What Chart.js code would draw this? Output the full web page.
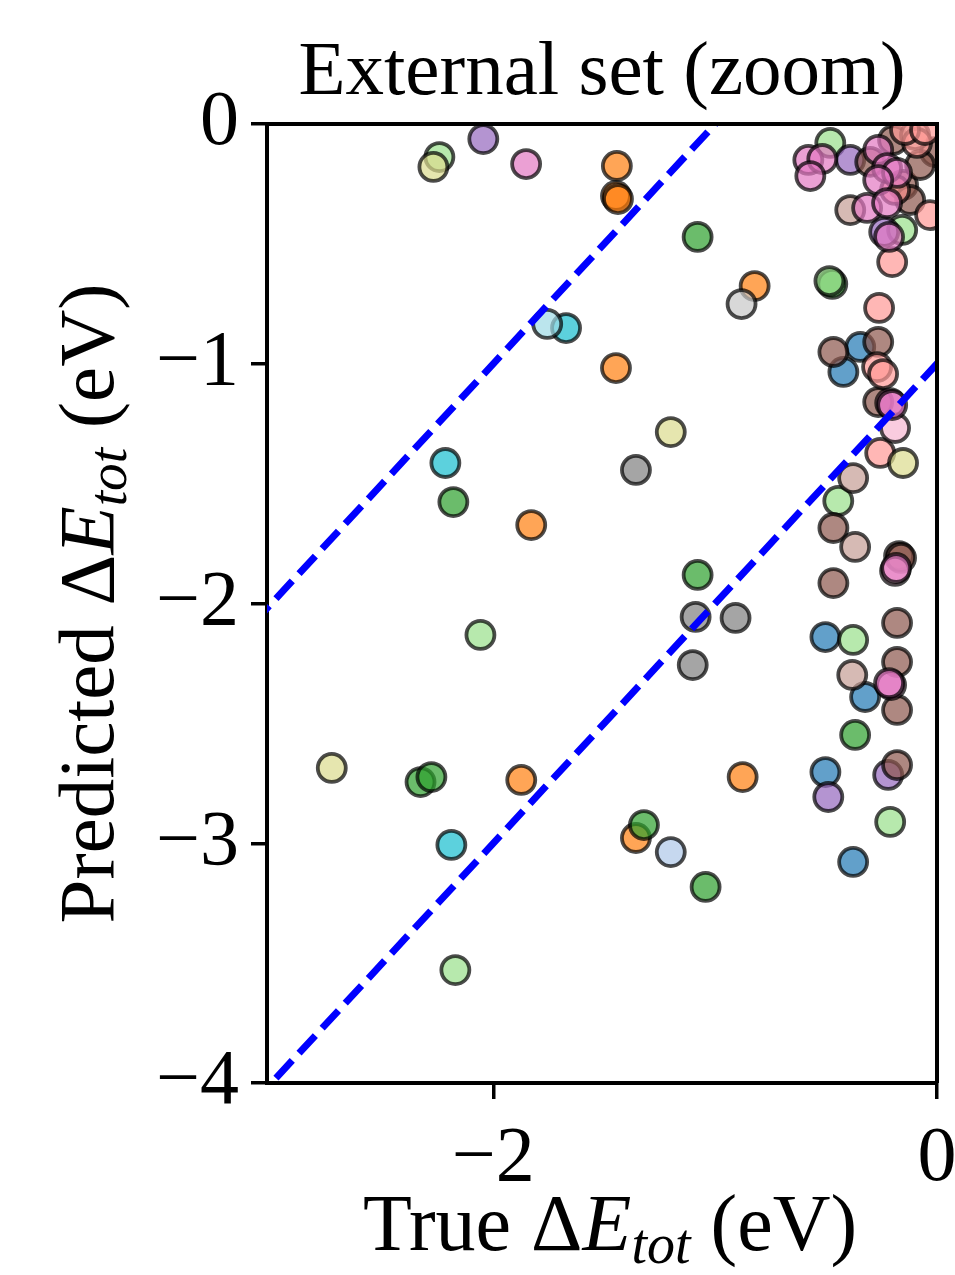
<!DOCTYPE html>
<html>
<head>
<meta charset="utf-8">
<script src="https://cdn.jsdelivr.net/npm/chart.js@4.4.0/dist/chart.umd.min.js"></script>
<style>
  body { margin: 0; background: #fff; }
  canvas { display: block; }
</style>
</head>
<body>
<canvas id="myChart" width="955" height="1275"></canvas>
<script>
// axis ticks
const xTicks = [-2, 0];
const yTicks = [-4, -3, -2, -1, 0];

// dashed guide lines  y = x + 1 and y = x - 1
const lineX = [-3.5, 0.5];
const upperY = [-2.5, 1.5];
const lowerY = [-4.5, -0.5];

// true / predicted values per colour group
const blueTrue = [-0.346, -0.422, -0.503, -0.324, -0.503, -0.378];
const bluePred = [-0.930, -1.034, -2.140, -2.390, -2.703, -3.078];

const lightBlueTrue = [-1.200];
const lightBluePred = [-3.037];

const orangeTrue = [-1.443, -1.447, -1.438, -0.822, -1.447, -1.829, -1.874, -0.876, -1.357];
const orangePred = [-0.175, -0.300, -0.313, -0.676, -1.018, -1.673, -2.736, -2.724, -2.978];

const greenTrue = [-1.079, -0.472, -2.180, -1.079, -2.328, -2.279, -1.321, -1.043, -0.369];
const greenPred = [-0.471, -0.667, -1.577, -1.881, -2.745, -2.724, -2.924, -3.182, -2.548];

const lightGreenTrue = [-2.243, -0.485, -0.481, -0.157, -0.445, -0.378, -0.211, -2.058, -2.171];
const lightGreenPred = [-0.138, -0.655, -0.079, -0.442, -1.572, -2.152, -2.911, -2.131, -3.529];

const purpleTrue = [-2.045, -0.391, -0.238, -0.220, -0.490];
const purplePred = [-0.063, -0.150, -0.450, -2.715, -2.807];

const brownTrue = [-0.301, -0.198, -0.009, -0.153, -0.121, -0.076, -0.467, -0.265, -0.265, -0.467, -0.171, -0.162, -0.467, -0.180, -0.180, -0.180, -0.180];
const brownPred = [-0.158, -0.067, -0.117, -0.254, -0.317, -0.171, -0.951, -0.909, -1.160, -1.685, -1.802, -1.810, -1.915, -2.081, -2.244, -2.444, -2.674];

const lightBrownTrue = [-0.391, -0.099, -0.378, -0.369, -0.382];
const lightBrownPred = [-0.359, -0.046, -1.477, -1.764, -2.298];

const lightRedTrue = [-0.090, -0.144, -0.054, -0.031, -0.189, -0.202, -0.261, -0.270, -0.243, -0.256];
const lightRedPred = [-0.079, -0.025, -0.025, -0.380, -0.275, -0.576, -0.767, -1.014, -1.043, -1.372];

const greyTrue = [-1.357, -1.088, -0.908, -1.101];
const greyPred = [-1.443, -2.056, -2.060, -2.257];

const lightGreyTrue = [-0.881];
const lightGreyPred = [-0.751];

const oliveTrue = [-2.270, -1.200, -0.153, -2.728];
const olivePred = [-0.179, -1.285, -1.414, -2.686];

const cyanTrue = [-1.672, -2.216, -2.189];
const cyanPred = [-0.851, -1.414, -3.007];

const lightCyanTrue = [-1.757];
const lightCyanPred = [-0.834];

const lightPinkTrue = [-0.189, -0.189];
const lightPinkPred = [-1.268, -1.864];

const pinkTrue = [-1.852, -0.580, -0.517, -0.571, -0.265, -0.225, -0.180, -0.265, -0.315, -0.225, -0.216, -0.211, -0.202, -0.184, -0.207, -0.216];
const pinkPred = [-0.167, -0.150, -0.146, -0.217, -0.108, -0.184, -0.204, -0.234, -0.350, -0.330, -0.471, -1.164, -1.172, -1.852, -2.340, -2.332];

// bottom to top
const groups = [
    {color: '#1f77b4', xs: blueTrue, ys: bluePred},
    {color: '#aec7e8', xs: lightBlueTrue, ys: lightBluePred},
    {color: '#ff7f0e', xs: orangeTrue, ys: orangePred},
    {color: '#2ca02c', xs: greenTrue, ys: greenPred},
    {color: '#98df8a', xs: lightGreenTrue, ys: lightGreenPred},
    {color: '#9467bd', xs: purpleTrue, ys: purplePred},
    {color: '#8c564b', xs: brownTrue, ys: brownPred},
    {color: '#c49c94', xs: lightBrownTrue, ys: lightBrownPred},
    {color: '#ff9896', xs: lightRedTrue, ys: lightRedPred},
    {color: '#7f7f7f', xs: greyTrue, ys: greyPred},
    {color: '#c7c7c7', xs: lightGreyTrue, ys: lightGreyPred},
    {color: '#dbdb8d', xs: oliveTrue, ys: olivePred},
    {color: '#17becf', xs: cyanTrue, ys: cyanPred},
    {color: '#9edae5', xs: lightCyanTrue, ys: lightCyanPred},
    {color: '#f7b6d2', xs: lightPinkTrue, ys: lightPinkPred},
    {color: '#e377c2', xs: pinkTrue, ys: pinkPred}
];

const titleText = 'External set (zoom)';
const xLabelParts = [['True \u0394', ''], ['E', 'i'], ['tot', 'is'], [' (eV)', '']];
const yLabelParts = [['Predicted \u0394', ''], ['E', 'i'], ['tot', 'is'], [' (eV)', '']];

const FONT = '"Liberation Serif", "Times New Roman", serif';

function hexToRgba(hex, a) {
    const n = parseInt(hex.slice(1), 16);
    return 'rgba(' + (n >> 16) + ',' + ((n >> 8) & 255) + ',' + (n & 255) + ',' + a + ')';
}

function toPoints(xs, ys) {
    return xs.map((x, i) => ({x: x, y: ys[i]}));
}

function lineDataset(ys) {
    return {
        type: 'line',
        data: toPoints(lineX, ys),
        borderColor: '#0000ff',
        borderWidth: 7,
        borderDash: [24, 10],
        pointRadius: 0,
        fill: false,
        tension: 0
    };
}

const datasets = [lineDataset(upperY), lineDataset(lowerY)];
groups.slice().reverse().forEach(g => {
    datasets.push({
        data: toPoints(g.xs, g.ys),
        backgroundColor: hexToRgba(g.color, 0.7),
        borderColor: 'rgba(0,0,0,0.7)',
        borderWidth: 3.8,
        pointRadius: 14,
        pointHoverRadius: 14,
        clip: 0
    });
});

function drawRich(ctx, parts, cx, baseline, size) {
    const fontOf = style => (style.indexOf('i') >= 0 ? 'italic ' : '') +
        (style.indexOf('s') >= 0 ? size * 0.7 : size) + 'px ' + FONT;
    let total = 0;
    parts.forEach(p => { ctx.font = fontOf(p[1]); total += ctx.measureText(p[0]).width; });
    let x = cx - total / 2;
    ctx.textAlign = 'left';
    ctx.textBaseline = 'alphabetic';
    parts.forEach(p => {
        ctx.font = fontOf(p[1]);
        const dy = p[1].indexOf('s') >= 0 ? size * 0.16 : 0;
        ctx.fillText(p[0], x, baseline + dy);
        x += ctx.measureText(p[0]).width;
    });
}

const textPlugin = {
    id: 'texts',
    afterDraw(chart) {
        const ctx = chart.ctx;
        const a = chart.chartArea;
        ctx.save();
        // top and right spines
        ctx.strokeStyle = '#000';
        ctx.lineWidth = 4;
        ctx.beginPath();
        ctx.moveTo(a.left, a.top);
        ctx.lineTo(a.right, a.top);
        ctx.lineTo(a.right, a.bottom);
        ctx.stroke();

        ctx.fillStyle = '#000';
        ctx.font = '77px ' + FONT;
        ctx.textAlign = 'center';
        ctx.textBaseline = 'alphabetic';
        ctx.fillText(titleText, (a.left + a.right) / 2, 94);

        drawRich(ctx, xLabelParts, 610, 1250, 80);

        ctx.translate(113, (a.top + a.bottom) / 2);
        ctx.rotate(-Math.PI / 2);
        drawRich(ctx, yLabelParts, 0, 0, 79);
        ctx.restore();
    }
};

const tickLabel = v => (v === 0 ? '0' : '\u2212' + Math.abs(v));

const gridOpts = {display: true, drawOnChartArea: false, drawTicks: true, tickLength: 16, color: '#000', lineWidth: 3.5};
const borderOpts = {display: true, color: '#000', width: 4};

const ctx = document.getElementById('myChart');
new Chart(ctx, {
    type: 'scatter',
    data: {datasets: datasets},
    options: {
        responsive: false,
        animation: false,
        layout: {padding: {top: 124, right: 18, left: 0, bottom: 0}},
        plugins: {
            legend: {display: false},
            tooltip: {enabled: false}
        },
        scales: {
            x: {
                type: 'linear',
                min: -3.02,
                max: 0,
                afterBuildTicks: s => { s.ticks = xTicks.map(v => ({value: v})); },
                afterFit: s => { s.height = 192; s.paddingLeft = 0; s.paddingRight = 0; },
                grid: gridOpts,
                border: borderOpts,
                ticks: {
                    color: '#000',
                    padding: 14,
                    maxRotation: 0,
                    font: {family: FONT, size: 78},
                    callback: tickLabel
                }
            },
            y: {
                type: 'linear',
                min: -4,
                max: 0,
                afterBuildTicks: s => { s.ticks = yTicks.map(v => ({value: v})); },
                afterFit: s => { s.width = 267; s.paddingTop = 0; s.paddingBottom = 0; },
                grid: gridOpts,
                border: borderOpts,
                ticks: {
                    color: '#000',
                    padding: 12,
                    font: {family: FONT, size: 78},
                    callback: tickLabel
                }
            }
        }
    },
    plugins: [textPlugin]
});
</script>
</body>
</html>
